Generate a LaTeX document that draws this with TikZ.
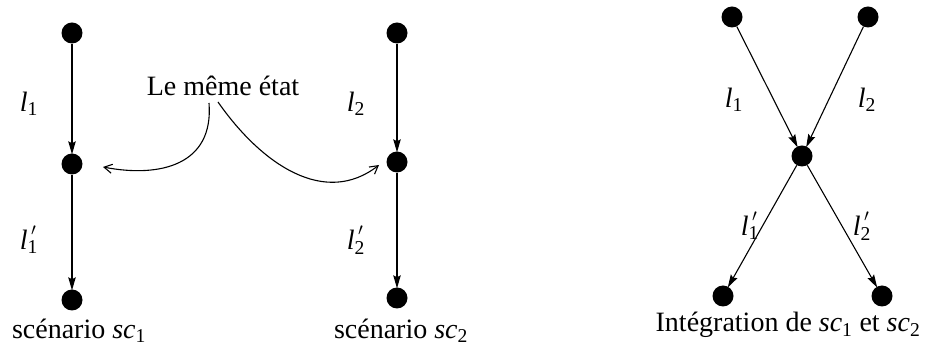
\documentclass[tikz,border=0pt]{standalone}
\usepackage{fontspec}
\setmainfont{Liberation Serif}
\usetikzlibrary{arrows.meta}
\newcommand\lsub[1]{\textit{l}\textsubscript{#1}}
\newcommand\lpsub[1]{\textit{l}\rlap{\raisebox{0.5em}{\hspace{0.12em}\fontsize{18}{18}\selectfont$\prime$}}\textsubscript{#1}}
\newcommand\scsub[1]{\textit{sc}\textsubscript{#1}}
\begin{document}
\begin{tikzpicture}[x=1pt,y=-1pt,
  dot/.style={circle,fill=black,inner sep=0pt,minimum size=21pt},
  txt/.style={font=\fontsize{28}{32}\selectfont,inner sep=0pt},
  arr/.style={line width=1.1pt,-{Stealth[length=13pt,width=7.5pt,inset=2pt]},shorten >=-1pt},
  carr/.style={line width=1.1pt,-{Straight Barb[length=8pt,width=9pt]}}]
\useasboundingbox (0,0) rectangle (930,352);
% left scenario
\node[dot] (a1) at (72,33) {};
\node[dot] (a2) at (72,164) {};
\node[dot] (a3) at (72,300) {};
\draw[arr] (a1) -- (a2);
\draw[arr] (a2) -- (a3);
\node[txt] (la1) at (29,104) {\lsub{1}};
\node[txt] (la2) at (29,240) {\lpsub{1}};
\node[txt] (ca) at (79,331) {scénario \scsub{1}};
% middle scenario
\node[dot] (b1) at (397,33) {};
\node[dot] (b2) at (397,162) {};
\node[dot] (b3) at (397,298) {};
\draw[arr] (b1) -- (b2);
\draw[arr] (b2) -- (b3);
\node[txt] (lb1) at (356,104) {\lsub{2}};
\node[txt] (lb2) at (356,240) {\lpsub{2}};
\node[txt] (cb) at (401,331) {scénario \scsub{2}};
% label with curved arrows
\node[txt] (same) at (223,86) {Le même état};
\coordinate (s1) at (209,103);
\coordinate (s2) at (218,102);
\coordinate (e1) at (103,167);
\coordinate (e2) at (379,165);
\draw[carr] (s1) .. controls (214,165) and (160,178) .. (e1);
\draw[carr] (s2) .. controls (262,165) and (325,207) .. (e2);
% integration
\node[dot] (c1) at (732,17) {};
\node[dot] (c2) at (868,17) {};
\node[dot] (c0) at (802,156) {};
\node[dot] (c3) at (723,296) {};
\node[dot] (c4) at (882,296) {};
\draw[arr] (c1) -- (c0);
\draw[arr] (c2) -- (c0);
\draw[arr] (c0) -- (c3);
\draw[arr] (c0) -- (c4);
\node[txt] (lc1) at (734,100) {\lsub{1}};
\node[txt] (lc2) at (867,100) {\lsub{2}};
\node[txt] (lc3) at (750,226) {\lpsub{1}};
\node[txt] (lc4) at (862,226) {\lpsub{2}};
\node[txt] (cc) at (788,325) {Intégration de \scsub{1} et \scsub{2}};
\end{tikzpicture}
\end{document}
